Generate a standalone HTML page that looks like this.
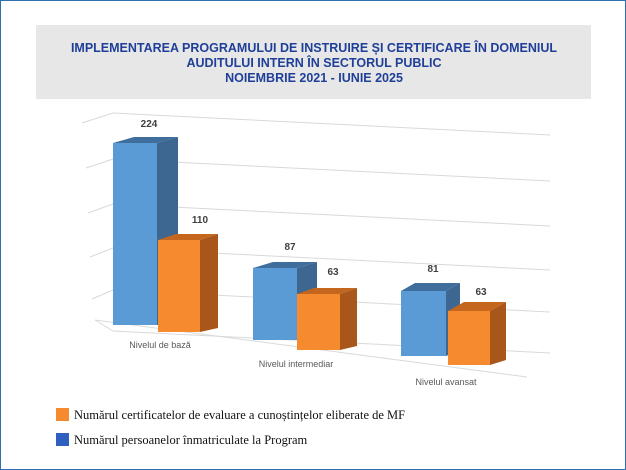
<!DOCTYPE html>
<html><head><meta charset="utf-8"><style>
html,body{margin:0;padding:0;background:#fff;}
svg{display:block;}
</style></head><body>
<svg width="626" height="470" viewBox="0 0 626 470" xmlns="http://www.w3.org/2000/svg">
<rect x="0.5" y="0.5" width="625" height="469" fill="#fff" stroke="#2f6fb0" stroke-width="1"/>
<rect x="36" y="25" width="555" height="74" fill="#e7e7e7"/>
<g font-family="Liberation Sans, sans-serif" font-weight="bold" font-size="12.5" fill="#1f3f99" text-anchor="middle">
<text x="314" y="52">IMPLEMENTAREA PROGRAMULUI DE INSTRUIRE ȘI CERTIFICARE ÎN DOMENIUL</text>
<text x="314" y="67">AUDITULUI INTERN ÎN SECTORUL PUBLIC</text>
<text x="314" y="82">NOIEMBRIE 2021 - IUNIE 2025</text>
</g>
<g fill="none" stroke="#d9d9d9" stroke-width="1">
<polyline points="82,123 113,113 550,135"/>
<polyline points="86,168 113,159 550,181"/>
<polyline points="88,213 113,204 550,226"/>
<polyline points="90,257 113,248 550,270"/>
<polyline points="92,299 113,290 550,312"/>
<polyline points="95,320 113,331 550,353"/>
<polyline points="95,320 527,377"/>
</g>
<!-- group1 -->
<polygon points="113,143 157,143 178,137 134,137" fill="#3f6e9c"/>
<polygon points="157,143 178,137 178,322 157,325" fill="#3d6690"/>
<rect x="113" y="143" width="44" height="182" fill="#5b9bd5"/>
<polygon points="158,240 200,240 218,234 176,234" fill="#c5661f"/>
<polygon points="200,240 218,234 218,328 200,332" fill="#a9561a"/>
<rect x="158" y="240" width="42" height="92" fill="#f58a2e"/>
<!-- group2 -->
<polygon points="253,268 297,268 317,262 273,262" fill="#3f6e9c"/>
<polygon points="297,268 317,262 317,338 297,340" fill="#3d6690"/>
<rect x="253" y="268" width="44" height="72" fill="#5b9bd5"/>
<polygon points="297,294 340,294 357,288 314,288" fill="#c5661f"/>
<polygon points="340,294 357,288 357,346 340,350" fill="#a9561a"/>
<rect x="297" y="294" width="43" height="56" fill="#f58a2e"/>
<!-- group3 -->
<polygon points="401,291 446,291 460,283 415,283" fill="#3f6e9c"/>
<polygon points="446,291 460,283 460,350 446,356" fill="#3d6690"/>
<rect x="401" y="291" width="45" height="65" fill="#5b9bd5"/>
<polygon points="448,311 490,311 506,302 464,302" fill="#c5661f"/>
<polygon points="490,311 506,302 506,360 490,365" fill="#a9561a"/>
<rect x="448" y="311" width="42" height="54" fill="#f58a2e"/>
<g font-family="Liberation Sans, sans-serif" font-weight="bold" font-size="10" fill="#404040" text-anchor="middle">
<text x="149" y="127">224</text>
<text x="200" y="223">110</text>
<text x="290" y="250">87</text>
<text x="333" y="275">63</text>
<text x="433" y="272">81</text>
<text x="481" y="295">63</text>
</g>
<g font-family="Liberation Sans, sans-serif" font-size="9" fill="#595959" text-anchor="middle">
<text x="160" y="348">Nivelul de bază</text>
<text x="296" y="367">Nivelul intermediar</text>
<text x="446" y="385">Nivelul avansat</text>
</g>
<rect x="56" y="408" width="13" height="13" fill="#f58a2e"/>
<rect x="56" y="433" width="13" height="13" fill="#2f5fbf"/>
<g font-family="Liberation Serif, serif" font-size="12.5" fill="#111">
<text x="74" y="419">Numărul certificatelor de evaluare a cunoștințelor eliberate de MF</text>
<text x="74" y="444">Numărul persoanelor înmatriculate la Program</text>
</g>
</svg>
</body></html>
